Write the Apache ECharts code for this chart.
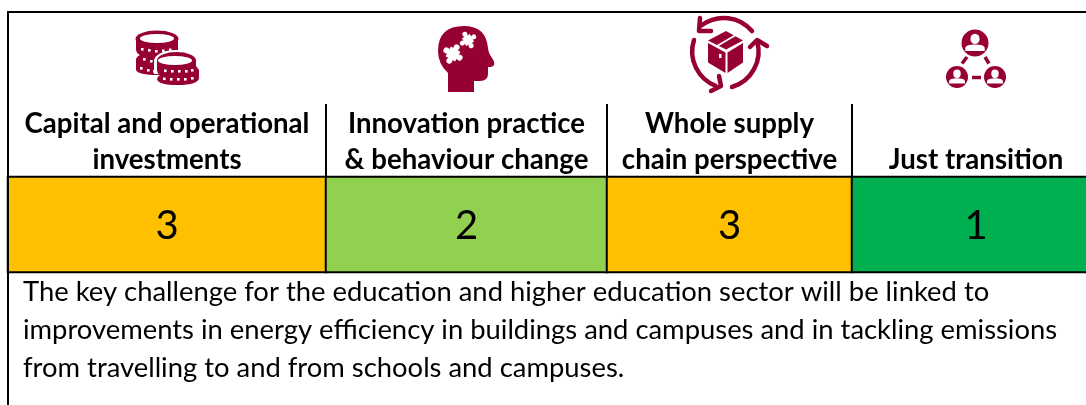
<!DOCTYPE html>
<html lang="en">
<head>
    <meta charset="UTF-8">
    <title>Education and higher education sector</title>
</head>
<style>
    body{
        margin: 0;
        padding: 0;
        background-color: #fff;
    }
    .main{
        width: 1086px;
        height: 405px;
    }
</style>

<body>
    <div class="main"></div>
</body>
<script src="https://cdn.jsdelivr.net/npm/echarts/dist/echarts.min.js"></script>
<script>
  // data
  var categories = [
    'Capital and operational\ninvestments',
    'Innovation practice\n& behaviour change',
    'Whole supply\nchain perspective',
    'Just transition'
  ];
  var scores = [3, 2, 3, 1];
  var noteLines = [
    'The key challenge for the education and higher education sector will be linked to',
    'improvements in energy efficiency in buildings and campuses and in tackling emissions',
    'from travelling to and from schools and campuses.'
  ];

  // layout and colours
  var columnEdges = [8, 326, 607, 852, 1100];
  var ICON = '#970033';
  var FONT = 'Lato';

  var myChart = echarts.init(document.querySelector('.main'));

  var grids = [], xAxes = [], yAxes = [], series = [];
  categories.forEach(function (name, i) {
    grids.push({
      left: columnEdges[i], width: columnEdges[i + 1] - columnEdges[i], top: 177, height: 95,
      outerBoundsMode: 'none' // last column runs past the page edge
    });
    xAxes.push({
      type: 'category', gridIndex: i, position: 'top', data: [name],
      axisLine: { show: false }, axisTick: { show: false },
      axisLabel: {
        show: true, interval: 0, margin: -1, color: '#000', fontFamily: FONT, fontWeight: 'bold',
        fontSize: 27.6, lineHeight: 36, verticalAlign: 'bottom'
      }
    });
    yAxes.push({ type: 'category', gridIndex: i, data: [''], show: false });
    series.push({
      type: 'heatmap', xAxisIndex: i, yAxisIndex: i, data: [[0, 0, scores[i]]],
      itemStyle: { borderColor: '#000', borderWidth: 2 },
      label: {
        show: true, color: '#000', fontFamily: FONT, fontSize: 40, offset: [0, 2],
        formatter: function (p) { return p.value[2]; }
      },
      emphasis: { disabled: true }
    });
  });

  function line(x1, y1, x2, y2, w) {
    return { type: 'line', shape: { x1: x1, y1: y1, x2: x2, y2: y2 }, style: { stroke: '#000', lineWidth: w || 2 }, z: 10 };
  }
  function fillPath(d, color) {
    return { type: 'path', shape: { pathData: d }, style: { fill: color || ICON } };
  }
  function strokePath(d, w, color) {
    return { type: 'path', shape: { pathData: d }, style: { fill: 'none', stroke: color || ICON, lineWidth: w, lineCap: 'round', lineJoin: 'round' } };
  }
  function ell(cx, cy, rx, ry, color) {
    return fillPath('M' + (cx - rx) + ' ' + cy + 'A' + rx + ' ' + ry + ' 0 1 1 ' + (cx + rx) + ' ' + cy + 'A' + rx + ' ' + ry + ' 0 1 1 ' + (cx - rx) + ' ' + cy + 'Z', color);
  }
  function dot(x, y) {
    return { type: 'rect', shape: { x: x, y: y, width: 2.6, height: 2.6 }, style: { fill: '#fff' } };
  }
  function person(cx, cy, r) {
    return [
      { type: 'circle', shape: { cx: cx, cy: cy, r: r }, style: { fill: ICON } },
      ell(cx, cy - r * 0.3, r * 0.34, r * 0.38, '#fff'),
      fillPath('M' + (cx - r * 0.72) + ' ' + (cy + r * 0.6) + 'V' + (cy + r * 0.36) + 'Q' + (cx - r * 0.66) + ' ' + (cy + r * 0.12) + ' ' + cx + ' ' + (cy + r * 0.12) +
        'Q' + (cx + r * 0.66) + ' ' + (cy + r * 0.12) + ' ' + (cx + r * 0.72) + ' ' + (cy + r * 0.36) + 'V' + (cy + r * 0.6) + 'Z', '#fff')
    ];
  }
  function puzzle(cx, cy, s, rot) {
    var knob = s * 0.55;
    return {
      type: 'group', x: cx, y: cy, rotation: rot,
      children: [
        { type: 'rect', shape: { x: -s, y: -s, width: 2 * s, height: 2 * s }, style: { fill: '#fff' } },
        { type: 'circle', shape: { cx: 0, cy: -s - 2, r: knob }, style: { fill: '#fff' } },
        { type: 'circle', shape: { cx: s + 2, cy: 0, r: knob }, style: { fill: '#fff' } },
        { type: 'circle', shape: { cx: 0, cy: s + 2, r: knob }, style: { fill: '#fff' } },
        { type: 'circle', shape: { cx: -s - 2, cy: 0, r: knob }, style: { fill: '#fff' } }
      ]
    };
  }

  var coinsIcon = [].concat(
    // back stack
    [fillPath('M136 39V49Q136 53 140 55Q136 57 136 60V70Q138 75 158 75H172V52L178 50V39Z')],
    [ell(157, 39, 21.5, 8.5), ell(157, 38.5, 17, 4.5, '#fff')],
    [dot(141, 48), dot(148, 49), dot(155, 50), dot(162, 49.5), dot(169, 48.5)],
    [dot(143, 58), dot(150, 60), dot(140, 67), dot(147, 69), dot(153, 70)],
    // front stack
    [ell(176, 61, 22, 11, '#fff'), fillPath('M154 62H199V74H154Z', '#fff')],
    [fillPath('M157 61V70Q157 73 160 75Q157 77 157 79Q158 85 178 85Q198 85 199 78V70L196 66V61Z')],
    [ell(176.5, 60.5, 19.5, 8.5), ell(175, 60.5, 17, 4.5, '#fff')],
    [dot(164, 69.5), dot(171, 70), dot(178, 70), dot(185, 70), dot(191, 69)],
    [dot(163, 77.5), dot(170, 78), dot(177, 78), dot(184, 78), dot(191, 77)]
  );

  var headIcon = [
    fillPath('M448 92V73Q438 64 438 51Q438 26 464 26Q486 26 488 48Q488 52 492 58Q495 62 494 65Q493 67 488 67V74Q488 81 480 81H474V92Z'),
    puzzle(453, 54, 5.5, -0.5),
    puzzle(468, 40, 4.5, 0.5)
  ];

  var boxIcon = [
    strokePath('M752 31A37 37 0 0 0 702 25', 4.5),
    strokePath('M700 18L699 31L711 31', 4.5),
    strokePath('M694 40A37 37 0 0 0 716 86', 4.5),
    strokePath('M719 76L721 86L711 91', 4.5),
    strokePath('M732 87A37 37 0 0 0 757 41', 4.5),
    strokePath('M750 47L757 40L767 46', 4.5),
    fillPath('M726 31L743 40.5L726 49.5L708 40.5Z'),
    strokePath('M717 46L735 35.5', 1.6, '#fff'),
    fillPath('M708 43L725.5 52.5V73L708 62.5Z'),
    fillPath('M727.5 52.5L743 43V62.5L727.5 73Z'),
    { type: 'rect', shape: { x: 719, y: 54, width: 2.5, height: 4 }, style: { fill: '#fff' } }
  ];

  var dashes = [strokePath('M967 57L962 63.5', 3.5), strokePath('M985 57L989 63.5', 3.5), strokePath('M972 77.5H981', 3.5)];
  dashes.forEach(function (d) { d.style.lineCap = 'butt'; });
  var peopleIcon = [].concat(person(975, 43, 13.5), person(957, 77, 11), person(995, 77, 11), dashes);

  // icons have to go through a custom series, the graphic component has no free path type
  series.push({
    type: 'custom',
    coordinateSystem: 'none',
    silent: true,
    data: [[0]],
    renderItem: function () {
      return { type: 'group', children: [].concat(coinsIcon, headIcon, boxIcon, peopleIcon) };
    }
  });

  var elements = [
    line(8, 12, 1086, 12),
    line(8, 11, 8, 405),
    line(326, 104, 326, 177),
    line(607, 104, 607, 177),
    line(852, 104, 852, 177)
  ];

  noteLines.forEach(function (text, i) {
    elements.push({
      type: 'text', x: 23, y: 292 + i * 38,
      style: { text: text, fill: '#000', font: '27.4px ' + FONT, verticalAlign: 'middle' }
    });
  });

  var option = {
    animation: false,
    grid: grids,
    xAxis: xAxes,
    yAxis: yAxes,
    visualMap: {
      show: false,
      type: 'piecewise',
      seriesIndex: [0, 1, 2, 3],
      pieces: [
        { value: 1, color: '#00B050' },
        { value: 2, color: '#92D050' },
        { value: 3, color: '#FFC000' }
      ]
    },
    series: series,
    graphic: { elements: elements }
  };
  myChart.setOption(option);
</script>
</html>
